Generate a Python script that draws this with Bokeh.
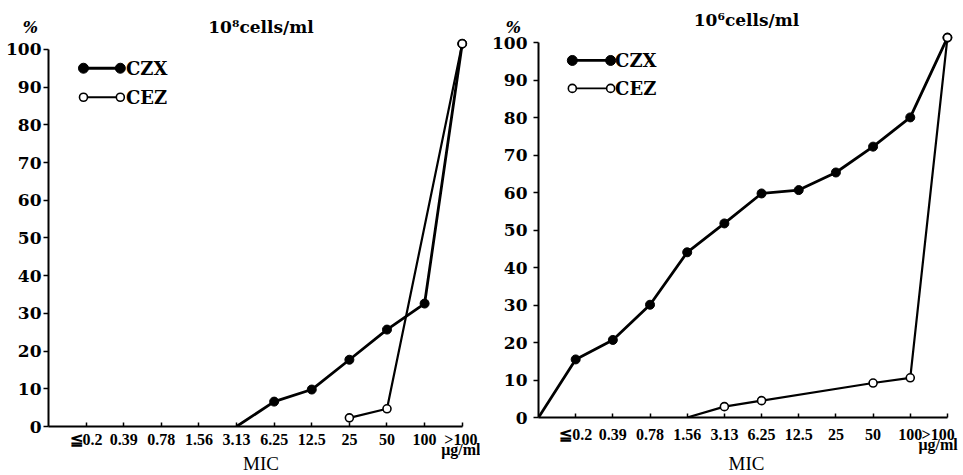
from bokeh.plotting import figure
from bokeh.models import Range1d, FixedTicker, Label
from bokeh.layouts import row
from bokeh.embed import file_html
from bokeh.resources import INLINE

# ---------------- data ----------------
# x positions: 0 = origin of the axis, 1..11 = MIC categories
mic_labels = ["≦0.2", "0.39", "0.78", "1.56", "3.13", "6.25", "12.5", "25", "50", "100", ">100\nμg/ml"]
y_ticks = [0, 10, 20, 30, 40, 50, 60, 70, 80, 90, 100]

left_title = "10⁸cells/ml"
right_title = "10⁶cells/ml"

# cumulative % of strains (None = no point)
czx_left = [None, None, None, None, None, 0, 6.6, 9.8, 17.7, 25.7, 32.6, 101.5]
cez_left = [None, None, None, None, None, None, None, None, 2.3, 4.7, None, 101.5]
czx_right = [0, 15.5, 20.7, 30.1, 44.1, 51.8, 59.8, 60.7, 65.4, 72.3, 80.1, 101.4]
cez_right = [None, None, None, None, 0, 2.9, 4.5, None, None, 9.2, 10.6, 101.4]

SERIF = "DejaVu Serif"
TNR = "Liberation Serif"


def series(vals):
    xs = [i for i, v in enumerate(vals) if v is not None]
    ys = [v for v in vals if v is not None]
    mx = [x for x, y in zip(xs, ys) if y > 0]
    my = [y for y in ys if y > 0]
    return xs, ys, mx, my


def make_panel(title, czx, cez, fw, fh, b_left, b_right, b_top, x_end, y_end, label_pos,
               y_standoff, x_standoff, mic_standoff, pct_standoff, title_standoff, leg):
    p = figure(frame_width=fw, frame_height=fh, output_backend="svg", toolbar_location=None,
               x_range=Range1d(0, x_end), y_range=Range1d(0, y_end),
               min_border_left=b_left, min_border_right=b_right,
               min_border_top=b_top, min_border_bottom=0)
    p.outline_line_color = None
    p.grid.visible = False

    p.title.text = title
    p.title.align = "center"
    p.title.vertical_align = "bottom"
    p.title.text_font = SERIF
    p.title.text_font_style = "bold"
    p.title.text_font_size = "17px"
    p.title.text_color = "black"
    p.title.standoff = title_standoff

    xa = p.xaxis[0]
    xa.bounds = (0, 11)
    xa.ticker = FixedTicker(ticks=label_pos, minor_ticks=list(range(1, 12)))
    xa.major_label_overrides = {pos: lab for pos, lab in zip(label_pos, mic_labels)}
    xa.axis_line_width = 2
    xa.axis_line_color = "black"
    xa.major_tick_in = 0
    xa.major_tick_out = 0
    xa.minor_tick_in = 4
    xa.minor_tick_out = 0
    xa.minor_tick_line_width = 1.5
    xa.minor_tick_line_color = "black"
    xa.major_label_text_font = TNR
    xa.major_label_text_font_style = "bold"
    xa.major_label_text_font_size = "16px"
    xa.major_label_text_line_height = 0.62
    xa.major_label_text_color = "black"
    xa.major_label_standoff = x_standoff
    xa.axis_label = "MIC"
    xa.axis_label_text_font = TNR
    xa.axis_label_text_font_style = "normal"
    xa.axis_label_text_font_size = "19px"
    xa.axis_label_text_color = "black"
    xa.axis_label_standoff = mic_standoff

    ya = p.yaxis[0]
    ya.bounds = (0, 100)
    ya.ticker = FixedTicker(ticks=y_ticks)
    ya.axis_line_width = 2
    ya.axis_line_color = "black"
    ya.major_tick_in = 0
    ya.major_tick_out = 5
    ya.major_tick_line_width = 1.5
    ya.minor_tick_line_color = None
    ya.major_label_text_font = SERIF
    ya.major_label_text_font_style = "bold"
    ya.major_label_text_font_size = "17px"
    ya.major_label_text_color = "black"
    ya.major_label_standoff = y_standoff
    ya.axis_label = "%"
    ya.axis_label_orientation = "horizontal"
    ya.axis_label_text_font = SERIF
    ya.axis_label_text_font_style = "bold italic"
    ya.axis_label_text_font_size = "16px"
    ya.axis_label_text_color = "black"
    ya.axis_label_align = "end"
    ya.axis_label_standoff = pct_standoff

    # series
    xs, ys, mx, my = series(czx)
    p.line(xs, ys, line_color="black", line_width=2.8)
    xs2, ys2, mx2, my2 = series(cez)
    p.line(xs2, ys2, line_color="black", line_width=2.2)
    p.scatter(mx, my, marker="circle", size=9, fill_color="black", line_color="black")
    p.scatter(mx2, my2, marker="circle", size=8, fill_color="white", line_color="black",
              line_width=1.6)

    # legend (marker - line - marker)
    lx0, lx1, ly1, ly2, ltx = leg
    p.line([lx0, lx1], [ly1, ly1], line_color="black", line_width=2.8)
    p.scatter([lx0, lx1], [ly1, ly1], marker="circle", size=10, fill_color="black",
              line_color="black")
    p.line([lx0, lx1], [ly2, ly2], line_color="black", line_width=1.8)
    p.scatter([lx0, lx1], [ly2, ly2], marker="circle", size=8, fill_color="white",
              line_color="black", line_width=1.6)
    for txt, yy in (("CZX", ly1), ("CEZ", ly2)):
        p.add_layout(Label(x=ltx, y=yy, text=txt, text_font=SERIF, text_font_style="bold",
                           text_font_size="18px", text_baseline="middle", text_align="left",
                           text_color="black"))
    return p


# left panel: frame top at page y 27, bottom (y=0) at 426, 3.77 px per %
left = make_panel(left_title, czx_left, cez_left, fw=425, fh=399, b_left=48, b_right=7,
                  b_top=27, x_end=11.3, y_end=105.8,
                  label_pos=[1, 2, 3, 4, 5, 6, 7, 8, 9, 10, 11],
                  y_standoff=2, x_standoff=4, mic_standoff=-8, pct_standoff=-35,
                  title_standoff=-18,
                  leg=(0.93, 1.91, 95.0, 87.3, 2.06))
# right panel: frame top at page y 27, bottom (y=0) at 417, 3.745 px per %
right = make_panel(right_title, czx_right, cez_right, fw=416, fh=390, b_left=58, b_right=8,
                   b_top=27, x_end=11.19, y_end=104.1,
                   label_pos=[1, 2, 3, 4, 5, 6, 7, 8, 9, 10, 10.75],
                   y_standoff=6, x_standoff=8, mic_standoff=-3, pct_standoff=-32,
                   title_standoff=-4,
                   leg=(0.91, 1.94, 95.3, 87.85, 2.06))

layout = row(left, right)
open("out.html", "w").write(file_html(layout, INLINE))
